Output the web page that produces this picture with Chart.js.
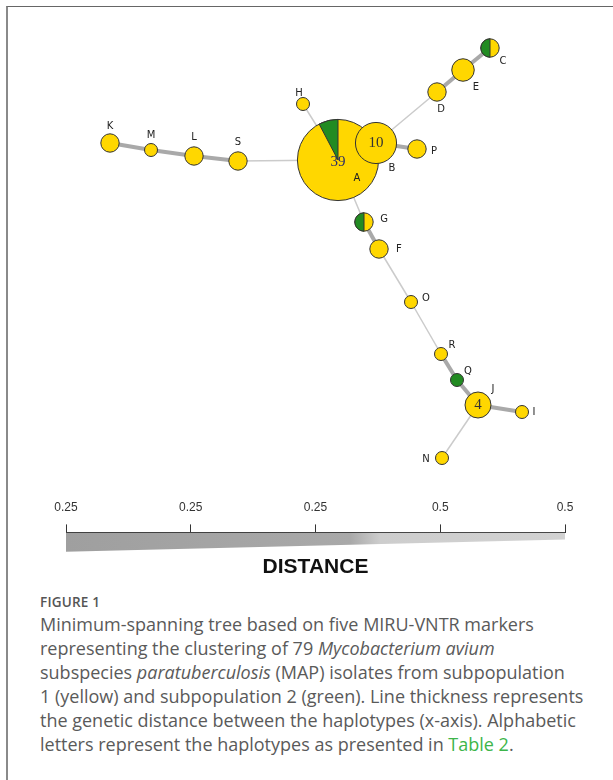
<!DOCTYPE html>
<html lang="en">
<head>
<meta charset="UTF-8">
<title>Minimum-spanning tree</title>
<script src="https://cdn.jsdelivr.net/npm/chart.js"></script>
<style>
    body { margin: 0; width: 613px; height: 780px; overflow: hidden; background: #fff; position: relative; }
    .frame { position: absolute; left: 6px; top: 6px; width: 700px; height: 900px; border-top: 1px solid #666; border-left: 2px solid #8a8a8a; }
    #treeChart { position: absolute; left: 0; top: 0; }
    #distChart { position: absolute; left: 0; top: 490px; }
    .caption { position: absolute; left: 40px; top: 592px; font-family: "Open Sans", sans-serif; color: #5a5a5a; white-space: nowrap; }
    .caption .fig { font-size: 13.5px; font-weight: 600; line-height: 20px; letter-spacing: 0.2px; color: #555; }
    .caption p { margin: 0; font-size: 18px; line-height: 24px; }
    .caption a { color: #3db54a; text-decoration: none; }
</style>
</head>
<body>
<div class="frame"></div>
<canvas id="treeChart" width="613" height="480"></canvas>
<canvas id="distChart" width="613" height="92"></canvas>
<div class="caption">
    <div class="fig">FIGURE 1</div>
    <p>Minimum-spanning tree based on five MIRU-VNTR markers<br>
    representing the clustering of 79 <i>Mycobacterium avium</i><br>
    subspecies <i>paratuberculosis</i> (MAP) isolates from subpopulation<br>
    1 (yellow) and subpopulation 2 (green). Line thickness represents<br>
    the genetic distance between the haplotypes (x-axis). Alphabetic<br>
    letters represent the haplotypes as presented in <a>Table 2</a>.</p>
</div>

<script>
    // haplotypes, position in the drawing, isolates per subpopulation
    const nodeNames = ['A', 'B', 'C', 'D', 'E', 'F', 'G', 'H', 'I', 'J', 'K', 'L', 'M', 'N', 'O', 'P', 'Q', 'R', 'S'];
    const nodeX = [338, 376, 490, 437, 463, 379, 364, 303, 522, 478, 110, 194, 151, 442, 411, 417, 457, 441, 238];
    const nodeY = [160, 143, 48, 92, 70, 249, 222, 104, 412, 405, 143, 156, 150, 458, 302, 149, 380, 354, 161];
    const yellowCount = [36, 10, 1, 2, 3, 2, 1, 1, 1, 4, 2, 2, 1, 1, 1, 2, 0, 1, 2];
    const greenCount = [3, 0, 1, 0, 0, 0, 1, 0, 0, 0, 0, 0, 0, 0, 0, 0, 1, 0, 0];

    // links: from, to, distance
    const edgeFrom = ['K', 'M', 'L', 'S', 'H', 'A', 'B', 'B', 'D', 'E', 'A', 'G', 'F', 'O', 'R', 'Q', 'J', 'J'];
    const edgeTo = ['M', 'L', 'S', 'A', 'A', 'B', 'P', 'D', 'E', 'C', 'G', 'F', 'O', 'R', 'Q', 'J', 'I', 'N'];
    const edgeDistance = [0.25, 0.25, 0.25, 0.5, 0.5, 0.25, 0.25, 0.5, 0.25, 0.25, 0.5, 0.25, 0.5, 0.5, 0.25, 0.25, 0.25, 0.5];

    const distanceTicks = ['0.25', '0.25', '0.25', '0.5', '0.5'];

    // label placement relative to node centre (px)
    const labelOffset = {
        A: [19, 18], B: [16, 25], C: [13, 13], D: [4, 17], E: [13, 17], F: [20, 0], G: [20, -3],
        H: [-4, -11], I: [12, 0], J: [15, -16], K: [0, -17], L: [0, -19], M: [0, -15], N: [-16, 1],
        O: [15, -4], P: [17, 2], Q: [11, -9], R: [11, -9], S: [0, -19]
    };

    const YELLOW = '#FFD700';
    const GREEN = '#228B22';

    function total(i) { return yellowCount[i] + greenCount[i]; }
    function radius(i) { return 6.5 * Math.sqrt(total(i)); }

    const edgeSets = edgeFrom.map((f, k) => {
        const a = nodeNames.indexOf(f), b = nodeNames.indexOf(edgeTo[k]);
        const thick = edgeDistance[k] < 0.5;
        return {
            type: 'line',
            order: 2,
            data: [{ x: nodeX[a], y: nodeY[a] }, { x: nodeX[b], y: nodeY[b] }],
            borderColor: thick ? '#a9a9a9' : '#cbcbcb',
            borderWidth: thick ? 4 : 1.5,
            pointRadius: 0,
            showLine: true,
            fill: false
        };
    });

    const nodeSet = {
        type: 'bubble',
        order: 1,
        data: nodeNames.map((n, i) => ({ x: nodeX[i], y: nodeY[i], r: radius(i) })),
        backgroundColor: nodeNames.map((n, i) => yellowCount[i] > 0 ? YELLOW : GREEN),
        borderColor: '#333',
        borderWidth: 1,
        hoverRadius: 0
    };

    // green slices, counts and haplotype letters
    const nodeDecor = {
        id: 'nodeDecor',
        afterDatasetsDraw(chart) {
            const ctx = chart.ctx;
            const xs = chart.scales.x, ys = chart.scales.y;
            ctx.save();
            nodeNames.forEach((name, i) => {
                const cx = xs.getPixelForValue(nodeX[i]);
                const cy = ys.getPixelForValue(nodeY[i]);
                const r = radius(i);
                if (greenCount[i] > 0 && yellowCount[i] > 0) {
                    const frac = greenCount[i] / total(i);
                    ctx.beginPath();
                    ctx.moveTo(cx, cy);
                    ctx.arc(cx, cy, r, -Math.PI / 2 - frac * 2 * Math.PI, -Math.PI / 2);
                    ctx.closePath();
                    ctx.fillStyle = GREEN;
                    ctx.fill();
                    ctx.strokeStyle = '#333';
                    ctx.lineWidth = 1;
                    ctx.stroke();
                }
                if (total(i) >= 4) {
                    ctx.font = '15px "Liberation Serif", "DejaVu Serif", serif';
                    ctx.fillStyle = i === 0 ? '#2c2c66' : '#333';
                    ctx.textAlign = 'center';
                    ctx.textBaseline = 'middle';
                    ctx.fillText(String(total(i)), cx, cy + (i === 0 ? 2 : 0));
                }
                const off = labelOffset[name];
                ctx.font = '10px "DejaVu Sans", sans-serif';
                ctx.fillStyle = '#222';
                ctx.textAlign = 'center';
                ctx.textBaseline = 'middle';
                ctx.fillText(name, cx + off[0], cy + off[1]);
            });
            ctx.restore();
        }
    };

    new Chart(document.getElementById('treeChart'), {
        type: 'bubble',
        data: { datasets: [...edgeSets, nodeSet] },
        options: {
            responsive: false,
            animation: false,
            events: [],
            layout: { padding: 0, autoPadding: false },
            scales: {
                x: { type: 'linear', display: false, min: 0, max: 613 },
                y: { type: 'linear', display: false, min: 0, max: 480, reverse: true }
            },
            plugins: { legend: { display: false }, tooltip: { enabled: false } }
        },
        plugins: [nodeDecor]
    });

    // distance scale
    new Chart(document.getElementById('distChart'), {
        type: 'line',
        data: {
            datasets: [{
                data: [{ x: 0, y: 19 }, { x: distanceTicks.length - 1, y: 7 }],
                borderWidth: 0,
                pointRadius: 0,
                tension: 0,
                fill: { value: 0 },
                backgroundColor: function (context) {
                    const area = context.chart.chartArea;
                    if (!area) return '#aaa';
                    const g = context.chart.ctx.createLinearGradient(area.left, 0, area.right, 0);
                    g.addColorStop(0, '#9f9f9f');
                    g.addColorStop(0.57, '#a9a9a9');
                    g.addColorStop(0.63, '#cdcdcd');
                    g.addColorStop(1, '#d2d2d2');
                    return g;
                }
            }]
        },
        options: {
            responsive: false,
            animation: false,
            events: [],
            layout: { padding: { left: 66, right: 48, top: 0, bottom: 0 }, autoPadding: false },
            scales: {
                x: {
                    type: 'linear',
                    position: 'top',
                    min: 0,
                    max: distanceTicks.length - 1,
                    grid: { drawOnChartArea: false, drawTicks: true, tickLength: 8, color: '#333', lineWidth: 1 },
                    border: { display: true, color: '#333', width: 1 },
                    ticks: {
                        stepSize: 1,
                        color: '#333',
                        font: { size: 12, family: '"Liberation Sans", Arial, sans-serif' },
                        padding: 10,
                        maxRotation: 0,
                        autoSkip: false,
                        callback: function (value) { return distanceTicks[value]; }
                    }
                },
                y: { display: false, min: 0, max: 20, reverse: true }
            },
            plugins: {
                legend: { display: false },
                tooltip: { enabled: false },
                title: {
                    display: true,
                    position: 'bottom',
                    text: 'DISTANCE',
                    color: '#111',
                    font: { size: 21, weight: 'bold', family: '"Liberation Sans", Arial, sans-serif' },
                    padding: { top: 2, bottom: 2 }
                }
            }
        }
    });
</script>
</body>
</html>
